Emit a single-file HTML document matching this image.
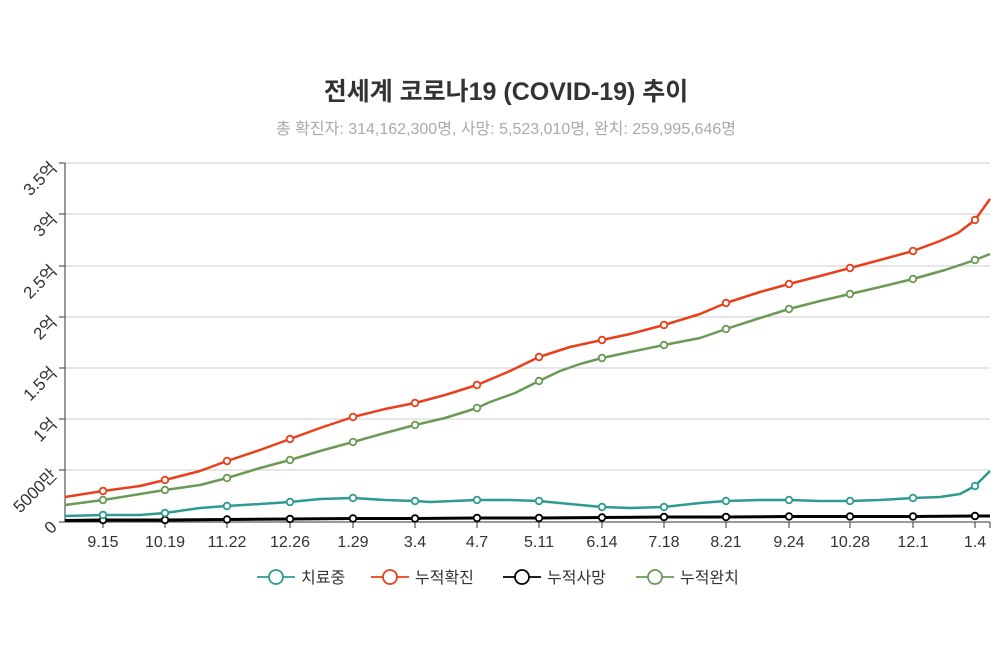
<!DOCTYPE html>
<html><head><meta charset="utf-8"><style>
body{margin:0;background:#fff;}
text{font-family:"Liberation Sans","Noto Sans CJK KR",sans-serif;}
</style></head><body>
<svg width="999" height="663" viewBox="0 0 999 663" xmlns="http://www.w3.org/2000/svg">
<text x="506" y="100" text-anchor="middle" font-size="25" font-weight="bold" fill="#333">전세계 코로나19 (COVID-19) 추이</text>
<text x="506" y="134" text-anchor="middle" font-size="16" fill="#aaa">총 확진자: 314,162,300명, 사망: 5,523,010명, 완치: 259,995,646명</text>
<g stroke="#ccc" stroke-width="1">
<line x1="65" y1="163" x2="990" y2="163"/><line x1="65" y1="214" x2="990" y2="214"/>
<line x1="65" y1="266" x2="990" y2="266"/><line x1="65" y1="317" x2="990" y2="317"/>
<line x1="65" y1="368" x2="990" y2="368"/><line x1="65" y1="419" x2="990" y2="419"/>
<line x1="65" y1="470" x2="990" y2="470"/>
</g>
<g stroke="#333" stroke-width="1">
<line x1="65" y1="163" x2="65" y2="522"/><line x1="65" y1="522" x2="990" y2="522"/>
<line x1="59" y1="163" x2="65" y2="163"/><line x1="59" y1="214" x2="65" y2="214"/><line x1="59" y1="266" x2="65" y2="266"/><line x1="59" y1="317" x2="65" y2="317"/><line x1="59" y1="368" x2="65" y2="368"/><line x1="59" y1="419" x2="65" y2="419"/><line x1="59" y1="470" x2="65" y2="470"/><line x1="59" y1="522" x2="65" y2="522"/>
<line x1="103" y1="522" x2="103" y2="528"/><line x1="165" y1="522" x2="165" y2="528"/><line x1="227" y1="522" x2="227" y2="528"/><line x1="290" y1="522" x2="290" y2="528"/><line x1="353" y1="522" x2="353" y2="528"/><line x1="415" y1="522" x2="415" y2="528"/><line x1="477" y1="522" x2="477" y2="528"/><line x1="539" y1="522" x2="539" y2="528"/><line x1="602" y1="522" x2="602" y2="528"/><line x1="664" y1="522" x2="664" y2="528"/><line x1="726" y1="522" x2="726" y2="528"/><line x1="789" y1="522" x2="789" y2="528"/><line x1="850" y1="522" x2="850" y2="528"/><line x1="913" y1="522" x2="913" y2="528"/><line x1="975" y1="522" x2="975" y2="528"/><line x1="990" y1="522" x2="990" y2="528"/>
</g>
<g font-size="17" fill="#333" text-anchor="end">
<text transform="translate(58,169) rotate(-45)">3.5억</text>
<text transform="translate(58,220) rotate(-45)">3억</text>
<text transform="translate(58,272) rotate(-45)">2.5억</text>
<text transform="translate(58,323) rotate(-45)">2억</text>
<text transform="translate(58,374) rotate(-45)">1.5억</text>
<text transform="translate(58,425) rotate(-45)">1억</text>
<text transform="translate(58,476) rotate(-45)">5000만</text>
<text transform="translate(58,528) rotate(-45)">0</text>
</g>
<g font-size="16" fill="#333" text-anchor="middle">
<text x="103" y="547">9.15</text><text x="165" y="547">10.19</text><text x="227" y="547">11.22</text><text x="290" y="547">12.26</text><text x="353" y="547">1.29</text><text x="415" y="547">3.4</text><text x="477" y="547">4.7</text><text x="539" y="547">5.11</text><text x="602" y="547">6.14</text><text x="664" y="547">7.18</text><text x="726" y="547">8.21</text><text x="789" y="547">9.24</text><text x="850" y="547">10.28</text><text x="913" y="547">12.1</text><text x="975" y="547">1.4</text>
</g>
<g fill="none" stroke-width="2.5" stroke-linejoin="round">
<polyline stroke="#000" stroke-width="3" points="65,520.5 103,520 165,520 227,519.5 290,519 353,518.5 415,518.5 477,518 539,518 602,517.5 664,517 726,517 789,516.5 850,516.5 913,516.5 975,516 990,516"/>
<polyline stroke="#2f9a92" points="65,516 103,515 140,515 165,513 200,508 227,506 260,504 290,502 320,499 353,498 385,500 415,501 430,502 477,500 510,500 539,501 570,504 602,507 630,508 664,507 700,503 726,501 760,500 789,500 820,501 850,501 880,500 913,498 940,497 960,494 975,486 990,471"/>
<polyline stroke="#6a9a55" points="65,505 103,500 165,490 200,485 227,478 260,468 290,460 320,451 353,442 385,433 415,425 445,418 477,408 490,402 515,393 539,381 560,371 580,364 602,358 630,352 664,345 700,338 726,329 760,318 789,309 820,301 850,294 880,287 913,279 945,270 975,260 990,254"/>
<polyline stroke="#e8401c" points="65,497 103,491 140,486 165,480 200,471 227,461 260,450 290,439 320,428 353,417 385,409 415,403 445,395 477,385 510,371 539,357 570,347 602,340 630,334 664,325 700,314 726,303 760,292 789,284 820,276 850,268 880,260 913,251 940,241 958,233 975,220 990,199"/>
</g>
<g stroke-width="1.8" fill="#fff">
<g stroke="#000"><circle cx="103" cy="520" r="3.3"/><circle cx="165" cy="520" r="3.3"/><circle cx="227" cy="519.5" r="3.3"/><circle cx="290" cy="519" r="3.3"/><circle cx="353" cy="518.5" r="3.3"/><circle cx="415" cy="518.5" r="3.3"/><circle cx="477" cy="518" r="3.3"/><circle cx="539" cy="518" r="3.3"/><circle cx="602" cy="517.5" r="3.3"/><circle cx="664" cy="517" r="3.3"/><circle cx="726" cy="517" r="3.3"/><circle cx="789" cy="516.5" r="3.3"/><circle cx="850" cy="516.5" r="3.3"/><circle cx="913" cy="516.5" r="3.3"/><circle cx="975" cy="516" r="3.3"/></g>
<g stroke="#2f9a92"><circle cx="103" cy="515" r="3.3"/><circle cx="165" cy="513" r="3.3"/><circle cx="227" cy="506" r="3.3"/><circle cx="290" cy="502" r="3.3"/><circle cx="353" cy="498" r="3.3"/><circle cx="415" cy="501" r="3.3"/><circle cx="477" cy="500" r="3.3"/><circle cx="539" cy="501" r="3.3"/><circle cx="602" cy="507" r="3.3"/><circle cx="664" cy="507" r="3.3"/><circle cx="726" cy="501" r="3.3"/><circle cx="789" cy="500" r="3.3"/><circle cx="850" cy="501" r="3.3"/><circle cx="913" cy="498" r="3.3"/><circle cx="975" cy="486" r="3.3"/></g>
<g stroke="#6a9a55"><circle cx="103" cy="500" r="3.3"/><circle cx="165" cy="490" r="3.3"/><circle cx="227" cy="478" r="3.3"/><circle cx="290" cy="460" r="3.3"/><circle cx="353" cy="442" r="3.3"/><circle cx="415" cy="425" r="3.3"/><circle cx="477" cy="408" r="3.3"/><circle cx="539" cy="381" r="3.3"/><circle cx="602" cy="358" r="3.3"/><circle cx="664" cy="345" r="3.3"/><circle cx="726" cy="329" r="3.3"/><circle cx="789" cy="309" r="3.3"/><circle cx="850" cy="294" r="3.3"/><circle cx="913" cy="279" r="3.3"/><circle cx="975" cy="260" r="3.3"/></g>
<g stroke="#e8401c"><circle cx="103" cy="491" r="3.3"/><circle cx="165" cy="480" r="3.3"/><circle cx="227" cy="461" r="3.3"/><circle cx="290" cy="439" r="3.3"/><circle cx="353" cy="417" r="3.3"/><circle cx="415" cy="403" r="3.3"/><circle cx="477" cy="385" r="3.3"/><circle cx="539" cy="357" r="3.3"/><circle cx="602" cy="340" r="3.3"/><circle cx="664" cy="325" r="3.3"/><circle cx="726" cy="303" r="3.3"/><circle cx="789" cy="284" r="3.3"/><circle cx="850" cy="268" r="3.3"/><circle cx="913" cy="251" r="3.3"/><circle cx="975" cy="220" r="3.3"/></g>
</g>
<g font-size="16" fill="#333" stroke-width="1.8">
<line x1="257" y1="577" x2="295" y2="577" stroke="#2f9a92"/><circle cx="276" cy="577" r="7" fill="#fff" stroke="#2f9a92"/><text x="301" y="583">치료중</text>
<line x1="371" y1="577" x2="409" y2="577" stroke="#e8401c"/><circle cx="390" cy="577" r="7" fill="#fff" stroke="#e8401c"/><text x="415" y="583">누적확진</text>
<line x1="503" y1="577" x2="541" y2="577" stroke="#000"/><circle cx="522" cy="577" r="7" fill="#fff" stroke="#000"/><text x="547" y="583">누적사망</text>
<line x1="636" y1="577" x2="674" y2="577" stroke="#6a9a55"/><circle cx="655" cy="577" r="7" fill="#fff" stroke="#6a9a55"/><text x="680" y="583">누적완치</text>
</g>
</svg>
</body></html>
